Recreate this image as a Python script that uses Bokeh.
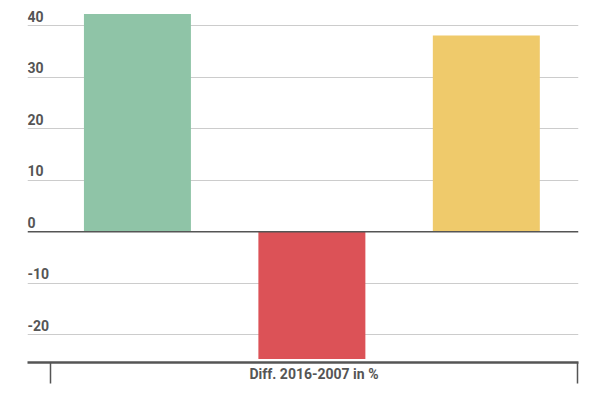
from bokeh.plotting import figure
from bokeh.models import Range1d, FixedTicker, Span, ColumnDataSource
from bokeh.core.properties import value
from bokeh.embed import file_html
from bokeh.resources import INLINE

# ---- data ----
category = "Diff. 2016-2007 in %"
series_values = [42.3, -24.7, 38.1]
series_colors = ["#8fc4a7", "#dc5257", "#efca6b"]
y_ticks = [-20, -10, 0, 10, 20, 30, 40]
y_tick_labels = ["-20", "-10", "0", "10", "20", "30", "40"]

# ---- layout ----
band_start, band_end = 0.0, 1.0
x_start = -0.0436
x_end = 1.0019
n = len(series_values)
spacing = 0.331
center = (band_start + band_end) / 2
bar_x = [center - 0.004 + (i - (n - 1) / 2) * spacing for i in range(n)]

p = figure(width=584, height=384, output_backend="svg", toolbar_location=None,
           x_range=Range1d(x_start, x_end), y_range=Range1d(-25.4, 44.9),
           y_axis_location=None, min_border_left=27, min_border_right=6,
           min_border_top=0, min_border_bottom=0)
p.outline_line_color = None
p.background_fill_color = "white"
p.border_fill_color = "white"

# grid
p.xgrid.visible = False
p.ygrid.ticker = FixedTicker(ticks=[t for t in y_ticks if t != 0])
p.ygrid.grid_line_color = "#cccccc"
p.ygrid.grid_line_width = 1

# bars
src = ColumnDataSource(dict(x=bar_x, top=series_values, color=series_colors))
p.vbar(x="x", top="top", bottom=0, width=0.203, color="color", line_color=None, source=src)

# zero line
p.add_layout(Span(location=0, dimension="width", line_color="#555555", line_width=1.5))

# y tick labels above gridlines
lab = ColumnDataSource(dict(x=[x_start] * len(y_ticks), y=y_ticks, t=y_tick_labels))
p.text(x="x", y="y", text="t", source=lab, text_baseline="bottom", text_align="left",
       y_offset=-4, text_font=value("Roboto"), text_font_size="14px",
       text_font_style="bold", text_color="#555555")

# bottom axis
ax = p.xaxis[0]
ax.ticker = FixedTicker(ticks=[center], minor_ticks=[band_start, band_end])
ax.major_label_overrides = {center: category}
ax.major_tick_out = 0
ax.major_tick_in = 0
ax.minor_tick_out = 21
ax.minor_tick_in = 0
ax.minor_tick_line_color = "#555555"
ax.minor_tick_line_width = 1.5
ax.axis_line_color = "#555555"
ax.axis_line_width = 2.5
ax.major_label_standoff = -18
ax.major_label_text_font = "Roboto"
ax.major_label_text_font_size = "14px"
ax.major_label_text_color = "#555555"
ax.major_label_text_font_style = "bold"

open("out.html", "w").write(file_html(p, INLINE))
